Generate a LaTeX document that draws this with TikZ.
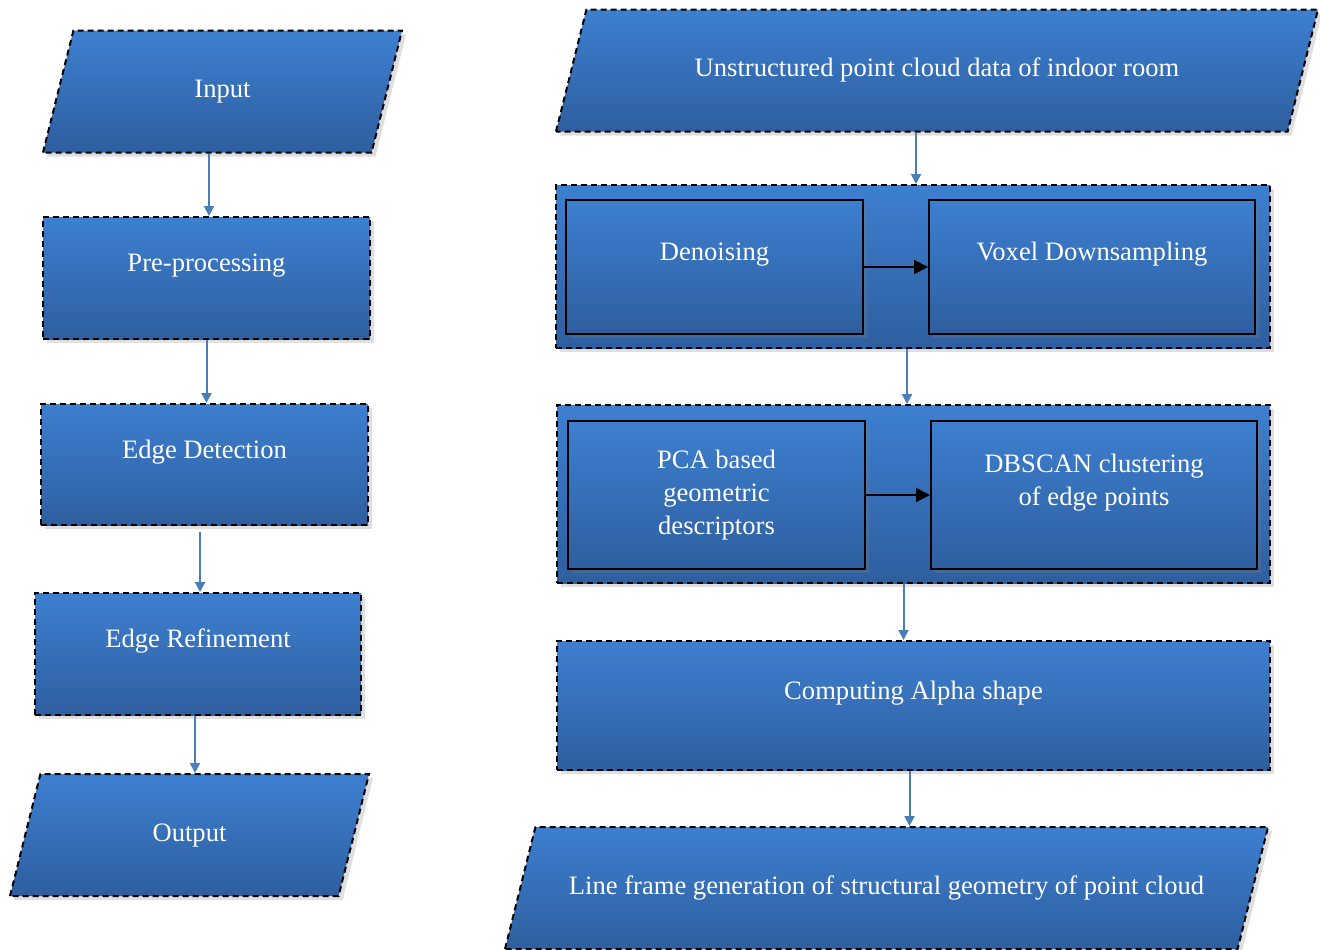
\documentclass[tikz,border=0pt]{standalone}
\usepackage{fontspec}
\setmainfont{Liberation Serif}
\usepackage{tikz}
\usetikzlibrary{positioning}
\usetikzlibrary{shapes.geometric,shadows,arrows.meta}
\definecolor{boxtop}{HTML}{3D7FD0}
\definecolor{boxbot}{HTML}{2E5F9F}
\definecolor{flowblue}{HTML}{4A7EBB}

\begin{document}
\begin{tikzpicture}[x=0.5pt,y=-0.5pt,
  blk/.style={top color=boxtop,bottom color=boxbot,text=white,align=center,inner sep=2pt,
    font=\fontsize{13.3}{16.3}\selectfont,drop shadow={shadow xshift=2pt,shadow yshift=-2pt,opacity=0.25}},
  dashbox/.style={blk,draw=black,line width=1pt,dash pattern=on 3pt off 2pt},
  io/.style={dashbox,trapezium,trapezium left angle=76,trapezium right angle=104,trapezium stretches body,
    text height=9pt,text depth=3pt,inner ysep=24.5pt},
  stagebox/.style={dashbox,rectangle},
  inner/.style={blk,draw=black,line width=1pt},
  lift/.style={text depth=15.5pt},
  flow/.style={draw=flowblue,line width=1pt,-{Triangle[length=5pt,width=5pt]}},
  link/.style={draw=black,line width=1pt,-{Triangle[length=7pt,width=7pt]}}]
\useasboundingbox (0,0) rectangle (1320,949);
% left column
\node[io,minimum width=179.5pt] (inp) at (222.5,91.5) {Input};
\node[stagebox,lift,minimum width=163.5pt,minimum height=61pt] (pre) at (206.5,278) {Pre-processing};
\node[stagebox,lift,minimum width=163.5pt,minimum height=60.5pt] (det) at (204.5,464.5) {Edge Detection};
\node[stagebox,lift,minimum width=163pt,minimum height=61pt] (ref) at (198,654) {Edge Refinement};
\node[io,minimum width=179.5pt] (out) at (189.5,835) {Output};
\draw[flow] ([xshift=1.25pt]inp.south -| pre) -- ([xshift=1.25pt]pre.north);
\draw[flow] (pre.south) -- (pre.south |- det.north);
\draw[flow] ([xshift=1pt,yshift=-3pt]det.south -| ref) -- ([xshift=1pt]ref.north);
\draw[flow] ([xshift=-1.5pt]ref.south) -- ([xshift=-1.5pt]ref.south |- out.north);
% right column
\node[io,minimum width=381pt] (uns) at (937,70.5) {Unstructured point cloud data of indoor room};
\node[stagebox,minimum width=357pt,minimum height=81.5pt] (c1) at (913,266.5) {};
\node[inner,lift,minimum width=148.5pt,minimum height=67pt] (den) at (714.5,267) {Denoising};
\node[inner,lift,minimum width=163pt,minimum height=67pt] (vox) at (1092,267) {Voxel Downsampling};
\node[stagebox,minimum width=356.5pt,minimum height=89pt] (c2) at (913.5,494) {};
\node[inner,minimum width=148.5pt,minimum height=74pt] (pca) at (716.5,495) {PCA based\\ geometric\\ descriptors};
\node[inner,lift,minimum width=163pt,minimum height=74pt] (dbs) at (1094,495) {DBSCAN clustering\\ of edge points};
\node[stagebox,lift,minimum width=356.5pt,minimum height=64.5pt] (alpha) at (913.5,705.5) {Computing Alpha shape};
\node[io,minimum width=381.5pt] (line) at (886.5,888) {Line frame generation of structural geometry of point cloud};
\draw[link] (den) -- (vox);
\draw[link] (pca) -- (dbs);
\draw[flow] ([xshift=1.5pt]uns.south -| c1) -- ([xshift=1.5pt]c1.north);
\draw[flow] ([xshift=-3pt]c1.south) -- ([xshift=-3pt]c1.south |- c2.north);
\draw[flow] ([xshift=-5pt]c2.south) -- ([xshift=-5pt]c2.south |- alpha.north);
\draw[flow] ([xshift=-2pt]alpha.south) -- ([xshift=-2pt]alpha.south |- line.north);
\end{tikzpicture}
\end{document}
